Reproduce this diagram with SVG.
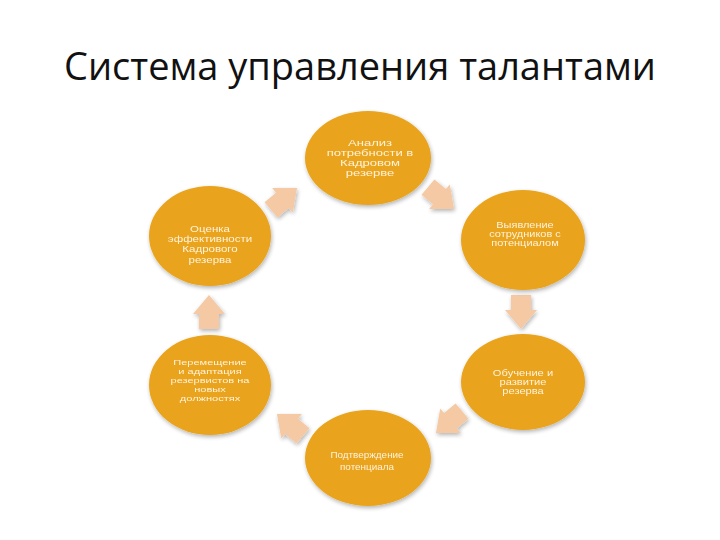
<svg xmlns="http://www.w3.org/2000/svg" width="720" height="540" viewBox="0 0 720 540">
<defs>
<style>
.title{font-family:"Open Sans","Liberation Sans",sans-serif;font-size:38px;fill:#111}
.node ellipse{fill:#E9A31B}
.lbl{font-family:"Liberation Sans",Arial,sans-serif;font-size:9px;fill:#FFF3DC;text-anchor:middle}
.sm{font-size:8px}
.arr{fill:#F4C9A3}
</style>
<filter id="sh" x="-20%" y="-20%" width="140%" height="140%">
<feGaussianBlur in="SourceAlpha" stdDeviation="2"/>
<feOffset dx="1" dy="2" result="b"/>
<feComponentTransfer><feFuncA type="linear" slope="0.3"/></feComponentTransfer>
<feMerge><feMergeNode/><feMergeNode in="SourceGraphic"/></feMerge>
</filter>
<polygon id="ar" points="-17,-10 -2,-10 -2,-16 17,0 -2,16 -2,10 -17,10"/>
</defs>
<rect width="720" height="540" fill="#fff"/>
<text class="title" x="64" y="80" textLength="592" lengthAdjust="spacingAndGlyphs">Система управления талантами</text>

<g id="connectors" class="arr" filter="url(#sh)">
<use href="#ar" transform="translate(284,199) rotate(-40)"/>
<use href="#ar" transform="translate(441,198) rotate(40)"/>
<use href="#ar" transform="translate(521,312) rotate(90)"/>
<use href="#ar" transform="translate(449,422) rotate(140)"/>
<use href="#ar" transform="translate(290,425) rotate(-140)"/>
<use href="#ar" transform="translate(209,312) rotate(-90)"/>
</g>

<g id="n1" class="node"><ellipse cx="368" cy="158" rx="63" ry="47" filter="url(#sh)"/>
<text class="lbl" transform="matrix(1.45,0,0,1,370,0)"><tspan x="0" y="146">Анализ</tspan><tspan x="0" y="156">потребности в</tspan><tspan x="0" y="166">Кадровом</tspan><tspan x="0" y="176">резерве</tspan></text></g>
<g id="n2" class="node"><ellipse cx="523" cy="240" rx="62" ry="50" filter="url(#sh)"/>
<text class="lbl" transform="matrix(1.22,0,0,1,525,0)"><tspan x="0" y="228">Выявление</tspan><tspan x="0" y="237">сотрудников с</tspan><tspan x="0" y="246">потенциалом</tspan></text></g>
<g id="n3" class="node"><ellipse cx="523" cy="382" rx="62" ry="48" filter="url(#sh)"/>
<text class="lbl" transform="matrix(1.24,0,0,1,523,0)"><tspan x="0" y="376">Обучение и</tspan><tspan x="0" y="385">развитие</tspan><tspan x="0" y="394">резерва</tspan></text></g>
<g id="n4" class="node"><ellipse cx="368" cy="458" rx="63" ry="48" filter="url(#sh)"/>
<text class="lbl" transform="matrix(1.1,0,0,1,367,0)"><tspan x="0" y="458">Подтверждение</tspan><tspan x="0" y="470">потенциала</tspan></text></g>
<g id="n5" class="node"><ellipse cx="210" cy="385" rx="61" ry="50" filter="url(#sh)"/>
<text class="lbl sm" transform="matrix(1.38,0,0,1,210,0)"><tspan x="0" y="365">Перемещение</tspan><tspan x="0" y="374">и адаптация</tspan><tspan x="0" y="383">резервистов на</tspan><tspan x="0" y="392">новых</tspan><tspan x="0" y="401">должностях</tspan></text></g>
<g id="n6" class="node"><ellipse cx="210" cy="236" rx="61" ry="50" filter="url(#sh)"/>
<text class="lbl" transform="matrix(1.28,0,0,1,210,0)"><tspan x="0" y="232">Оценка</tspan><tspan x="0" y="242">эффективности</tspan><tspan x="0" y="252">Кадрового</tspan><tspan x="0" y="263">резерва</tspan></text></g>
</svg>
